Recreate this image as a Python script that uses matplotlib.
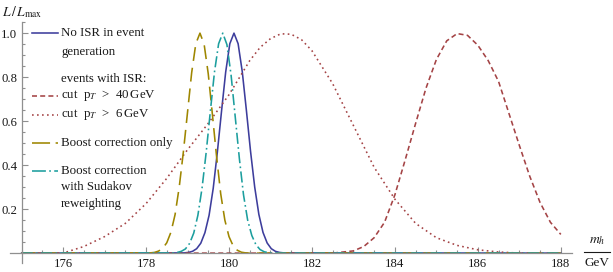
import matplotlib
matplotlib.use("Agg")
import matplotlib.pyplot as plt
from matplotlib.lines import Line2D
from matplotlib.ticker import MultipleLocator, FixedLocator

plt.rcParams["font.family"] = ["Liberation Serif", "DejaVu Serif"]
plt.rcParams["mathtext.fontset"] = "stix"
plt.rcParams["lines.scale_dashes"] = False

# m_h in GeV
mh_noisr = [175.0, 178.92, 179.02, 179.12, 179.22, 179.32, 179.42, 179.52, 179.62, 179.72,
            179.82, 179.92, 180.02, 180.12, 180.22, 180.32, 180.42, 180.52, 180.62,
            180.72, 180.82, 180.92, 181.02, 181.12, 181.22, 181.32, 188.0]
L_noisr = [0.0, 0.001, 0.003, 0.008, 0.02, 0.045, 0.093, 0.172, 0.295, 0.46,
           0.645, 0.823, 0.952, 1.0, 0.952, 0.825, 0.648, 0.462, 0.3, 0.176,
           0.094, 0.046, 0.02, 0.008, 0.003, 0.001, 0.0]

mh_cut40 = [175.0, 182.5, 183.0, 183.25, 183.5, 183.75, 184.0, 184.25, 184.5, 184.75,
            185.0, 185.25, 185.5, 185.75, 186.0, 186.25, 186.5, 186.75, 187.0,
            187.25, 187.5, 187.75, 188.0]
L_cut40 = [0.0, 0.0, 0.01, 0.03, 0.07, 0.14, 0.265, 0.425, 0.59, 0.75,
           0.88, 0.965, 0.998, 0.99, 0.945, 0.875, 0.78, 0.635, 0.49,
           0.35, 0.23, 0.14, 0.085]

mh_cut6 = [175.0, 176.0, 176.5, 177.0, 177.5, 178.0, 178.5, 179.0, 179.5, 180.0,
           180.5, 180.75, 181.0, 181.25, 181.5, 181.75, 182.0, 182.5, 183.0,
           183.5, 184.0, 184.5, 185.0, 185.5, 186.0, 186.5, 187.0, 188.0]
L_cut6 = [0.0, 0.0, 0.03, 0.075, 0.135, 0.225, 0.34, 0.47, 0.59, 0.72,
          0.875, 0.935, 0.975, 0.997, 0.995, 0.97, 0.92, 0.77, 0.58,
          0.39, 0.245, 0.135, 0.07, 0.035, 0.015, 0.005, 0.0, 0.0]

mh_boost = [175.0, 178.1, 178.2, 178.3, 178.4, 178.5, 178.6, 178.7, 178.8, 178.9,
            179.0, 179.1, 179.2, 179.3, 179.4, 179.5, 179.6, 179.7, 179.8,
            179.9, 180.0, 180.1, 180.2, 180.3, 180.4, 180.5, 188.0]
L_boost = [0.0, 0.001, 0.003, 0.009, 0.021, 0.047, 0.095, 0.175, 0.3, 0.46,
           0.64, 0.82, 0.952, 1.0, 0.95, 0.815, 0.63, 0.44, 0.27, 0.15,
           0.075, 0.033, 0.013, 0.004, 0.001, 0.0, 0.0]

mh_sudakov = [175.0, 178.65, 178.75, 178.85, 178.95, 179.05, 179.15, 179.25, 179.35,
              179.45, 179.55, 179.65, 179.75, 179.85, 179.95, 180.05, 180.15, 180.25,
              180.35, 180.45, 180.55, 180.65, 180.75, 180.85, 180.95, 181.05, 188.0]
L_sudakov = [0.0, 0.001, 0.003, 0.008, 0.019, 0.044, 0.091, 0.172, 0.295, 0.458,
             0.644, 0.823, 0.952, 1.0, 0.948, 0.81, 0.62, 0.43, 0.265, 0.15,
             0.08, 0.038, 0.016, 0.006, 0.002, 0.0, 0.0]

blue = "#3d3d9c"
red = "#a44345"
olive = "#9e8600"
teal = "#1c9e9e"
gray = "#8f8f8f"
txt = "#1a1a1a"

fig = plt.figure(figsize=(6.13, 2.72), dpi=100)
ax = fig.add_axes([10 / 613, 9 / 272, 562 / 613, 241.3 / 272])
ax.set_xlim(174.72, 188.27)
ax.set_ylim(-0.045, 1.052)

lw = 1.15
ax.plot(mh_noisr, L_noisr, color=blue, lw=lw, clip_on=False)
ax.plot(mh_cut40, L_cut40, color=red, lw=lw, ls=(0, (3.6, 2.3)), clip_on=False)
ax.plot(mh_cut6, L_cut6, color=red, lw=lw, ls=(0, (1.2, 2.4)), clip_on=False)
ax.plot(mh_boost, L_boost, color=olive, lw=lw, ls=(0, (10, 5)), clip_on=False)
ax.plot(mh_sudakov, L_sudakov, color=teal, lw=lw,
        ls=(0, (8, 2.4, 1.2, 2.4)), clip_on=False)

for s in ["top", "right"]:
    ax.spines[s].set_visible(False)
ax.spines["left"].set_position(("data", 175))
ax.spines["bottom"].set_position(("data", 0))
for s in ["left", "bottom"]:
    ax.spines[s].set_color(gray)
    ax.spines[s].set_linewidth(0.9)

ax.xaxis.set_major_locator(FixedLocator([176, 178, 180, 182, 184, 186, 188]))
ax.xaxis.set_minor_locator(MultipleLocator(0.5))
ax.yaxis.set_major_locator(FixedLocator([0.2, 0.4, 0.6, 0.8, 1.0]))
ax.yaxis.set_minor_locator(MultipleLocator(0.05))
ax.set_yticklabels(["0.2", "0.4", "0.6", "0.8", "1.0"])
ax.tick_params(which="both", direction="in", color=gray, width=0.8,
               labelsize=9.2, labelcolor=txt)
ax.tick_params(which="major", length=4)
ax.tick_params(which="minor", length=2.3)
ax.tick_params(axis="x", pad=3.5)
ax.tick_params(axis="y", pad=3)

fig.text(2 / 613, 1 - 12 / 272, r"$L\,/\,L_{\rm max}$", fontsize=9.8,
         color=txt, va="center", ha="left")
# m_h / GeV written as a stacked fraction
fig.text(597 / 613, 1 - 242 / 272, r"$m_h$", fontsize=9.8,
         color=txt, va="center", ha="center")
fig.add_artist(Line2D([584 / 613, 610 / 613], [1 - 252 / 272, 1 - 252 / 272],
                      lw=0.8, color=txt, transform=fig.transFigure))
fig.text(597 / 613, 1 - 262.5 / 272, "GeV", fontsize=9.5,
         color=txt, va="center", ha="center")


# hand-made legend, placed in pixel positions like the original
def fpos(px, py):
    return px / 613, 1 - py / 272


def key(py, **style):
    x0, y = fpos(32, py)
    x1, _ = fpos(58, py)
    fig.add_artist(Line2D([x0, x1], [y, y], lw=lw, transform=fig.transFigure, **style))


def label(py, s):
    x, y = fpos(61, py)
    fig.text(x, y, s, fontsize=9.3, color=txt, va="center", ha="left")


key(33.3, color=blue)
label(33.3, "No ISR in event")
label(51.5, "generation")
label(79.5, "events with ISR:")
key(95.7, color=red, ls=(0, (3.6, 2.3)))
label(95.7, r"cut  p$_T$  >  40$\,$GeV")
key(115, color=red, ls=(0, (1.2, 2.4)))
label(115, r"cut  p$_T$  >  6$\,$GeV")
key(143.3, color=olive, ls=(0, (13, 4)))
label(143.3, "Boost correction only")
key(170.7, color=teal, ls=(0, (10, 2.4, 1.2, 2.4)))
label(170.7, "Boost correction")
label(187.5, "with Sudakov")
label(204.5, "reweighting")

fig.savefig("out.png", dpi=100)
